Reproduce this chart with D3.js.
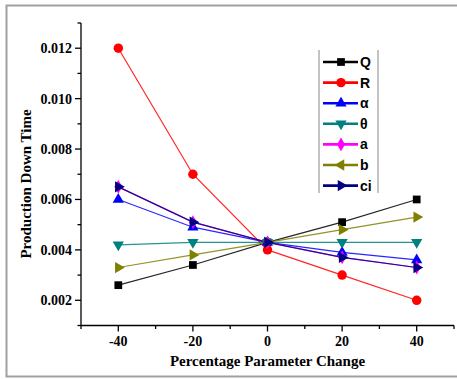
<!DOCTYPE html>
<html>
<head>
<meta charset="utf-8">
<script src="https://cdn.jsdelivr.net/npm/d3@7"></script>
<style>
  body { margin: 0; background: #fff; }
  svg { display: block; }
</style>
</head>
<body>
<div id="chart"></div>
<script>
// data
const pctChange = [-40, -20, 0, 20, 40];
const seriesNames = ["Q", "R", "α", "θ", "a", "b", "ci"];
const qVals     = [0.0026, 0.0034, 0.0043, 0.0051, 0.0060];
const rVals     = [0.0120, 0.0070, 0.0040, 0.0030, 0.0020];
const alphaVals = [0.0060, 0.0049, 0.0043, 0.0039, 0.0036];
const thetaVals = [0.0042, 0.0043, 0.0043, 0.0043, 0.0043];
const aVals     = [0.0065, 0.0051, 0.0043, 0.0037, 0.0033];
const bVals     = [0.0033, 0.0038, 0.0043, 0.0048, 0.0053];
const ciVals    = [0.0065, 0.0051, 0.0043, 0.0037, 0.0033];
const xTicks = [-40, -20, 0, 20, 40];
const yTicks = [0.002, 0.004, 0.006, 0.008, 0.010, 0.012];

const allVals = [qVals, rVals, alphaVals, thetaVals, aVals, bVals, ciVals];
const colors = ["#000000", "#ff0000", "#0000ff", "#008080", "#ff00ff", "#808000", "#000080"];
// symbol type, rotation in plot, rotation in legend
const shapes = [
  [d3.symbolSquare, 0, 0],
  [d3.symbolCircle, 0, 0],
  [d3.symbolTriangle, 0, 0],
  [d3.symbolTriangle, 180, 180],
  [d3.symbolDiamond, 0, 0],
  [d3.symbolTriangle, 90, -90],
  [d3.symbolTriangle, 90, 90]
];
const sizes = [60, 70, 55, 55, 55, 55, 55];

const width = 457, height = 379;
const svg = d3.select("#chart").append("svg")
    .attr("width", width)
    .attr("height", height);

// outer frame
svg.append("path")
    .attr("d", "M460,5.5 H6.5 V376.5 H460")
    .attr("fill", "none")
    .attr("stroke", "#a0a0a0")
    .attr("stroke-width", 2);

const x = d3.scaleLinear().domain([-50, 50]).range([81, 454]);
const y = d3.scaleLinear().domain([0.001, 0.013]).range([325.5, 23]);

const serif = "'Liberation Serif', 'Times New Roman', serif";

// x axis
const xAxis = svg.append("g").attr("transform", "translate(0,325.5)");
xAxis.append("line").attr("x1", 81).attr("x2", 454).attr("stroke", "#000").attr("stroke-width", 1.3);
xAxis.selectAll("line.minor")
  .data(d3.range(-50, 51, 10))
  .join("line")
    .attr("class", "minor")
    .attr("x1", d => x(d)).attr("x2", d => x(d))
    .attr("y1", 0).attr("y2", d => xTicks.includes(d) ? 6 : 3.5)
    .attr("stroke", "#000").attr("stroke-width", 1.3);
xAxis.selectAll("text")
  .data(xTicks)
  .join("text")
    .attr("x", d => x(d))
    .attr("y", 20)
    .attr("text-anchor", "middle")
    .style("font", `bold 14px ${serif}`)
    .text(d => d);

// y axis
const yAxis = svg.append("g").attr("transform", "translate(81,0)");
yAxis.append("line").attr("y1", y(0.013)).attr("y2", y(0.001)).attr("stroke", "#000").attr("stroke-width", 1.3);
yAxis.selectAll("line.minor")
  .data(d3.range(1, 14).map(d => d / 1000))
  .join("line")
    .attr("class", "minor")
    .attr("y1", d => y(d)).attr("y2", d => y(d))
    .attr("x1", 0).attr("x2", (d, i) => (i % 2 === 1) ? -6 : -3.5)
    .attr("stroke", "#000").attr("stroke-width", 1.3);
yAxis.selectAll("text")
  .data(yTicks)
  .join("text")
    .attr("x", -9)
    .attr("y", d => y(d))
    .attr("dy", "0.35em")
    .attr("text-anchor", "end")
    .style("font", `bold 14px ${serif}`)
    .text(d => d3.format(".3f")(d));

// axis titles
svg.append("text")
    .attr("transform", "translate(31,184) rotate(-90)")
    .attr("text-anchor", "middle")
    .style("font", `bold 15px ${serif}`)
    .text("Production Down Time");
svg.append("text")
    .attr("x", 267.5)
    .attr("y", 366)
    .attr("text-anchor", "middle")
    .style("font", `bold 15px ${serif}`)
    .text("Percentage Parameter Change");

// series
const line = d3.line().x((d, i) => x(pctChange[i])).y(d => y(d));
const plot = svg.append("g");
allVals.forEach((vals, k) => {
  plot.append("path")
      .attr("d", line(vals))
      .attr("fill", "none")
      .attr("stroke", colors[k])
      .attr("stroke-width", 1.2)
      .attr("stroke-opacity", 0.85);
});
allVals.forEach((vals, k) => {
  const sym = d3.symbol().type(shapes[k][0]).size(sizes[k]);
  plot.selectAll(null)
    .data(vals)
    .join("path")
      .attr("d", sym)
      .attr("transform", (d, i) => `translate(${x(pctChange[i])},${y(d)}) rotate(${shapes[k][1]})`)
      .attr("fill", colors[k]);
});

// legend
const legend = svg.append("g");
legend.append("rect")
    .attr("x", 319).attr("y", 50).attr("width", 59).attr("height", 143)
    .attr("fill", "#fff");
legend.append("line").attr("x1", 319).attr("x2", 319).attr("y1", 50).attr("y2", 193)
    .attr("stroke", "#888").attr("stroke-width", 1);
legend.append("line").attr("x1", 378).attr("x2", 378).attr("y1", 50).attr("y2", 193)
    .attr("stroke", "#888").attr("stroke-width", 1);
seriesNames.forEach((name, k) => {
  const ly = 62 + k * 20.6;
  legend.append("line")
      .attr("x1", 323).attr("x2", 358).attr("y1", ly).attr("y2", ly)
      .attr("stroke", colors[k]).attr("stroke-width", 2.6);
  legend.append("path")
      .attr("d", d3.symbol().type(shapes[k][0]).size(sizes[k])())
      .attr("transform", `translate(341,${ly}) rotate(${shapes[k][2]})`)
      .attr("fill", colors[k]);
  legend.append("text")
      .attr("x", 360)
      .attr("y", ly)
      .attr("dy", "0.36em")
      .style("font", "bold 14px 'Liberation Sans', Arial, sans-serif")
      .text(name);
});
</script>
</body>
</html>
